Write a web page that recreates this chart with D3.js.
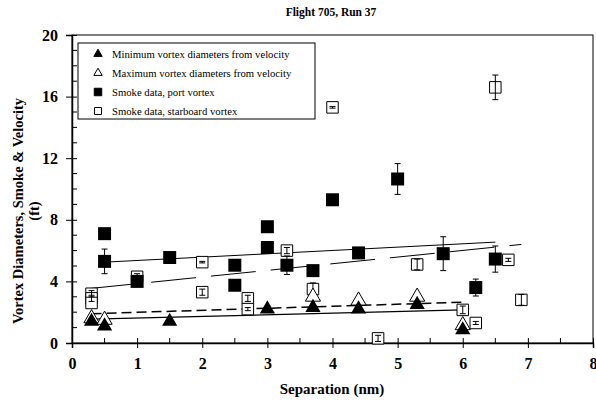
<!DOCTYPE html>
<html>
<head>
<meta charset="utf-8">
<script src="https://cdn.jsdelivr.net/npm/d3@7/dist/d3.min.js"></script>
<style>
  body { margin: 0; background: white; }
  svg { font-family: "Liberation Serif", "Times New Roman", serif; }
</style>
</head>
<body>
<svg id="chart" width="596" height="402"></svg>
<script>
// values: [separation, value, error half-height]
const minVel = [[0.3, 1.4], [0.5, 1.1], [1.5, 1.4], [3.0, 2.2], [3.7, 2.3], [4.4, 2.2], [5.3, 2.5], [6.0, 0.85]]
const maxVel = [[0.3, 1.6], [0.5, 1.5], [3.7, 3.0], [4.4, 2.75], [5.3, 3.0], [6.0, 1.15]]
const portSmoke = [
  [0.5, 5.3, 0.8], [0.5, 7.1, 0], [1.0, 4.0, 0], [1.5, 5.55, 0], [2.5, 5.05, 0], [2.5, 3.75, 0],
  [3.0, 7.55, 0], [3.0, 6.2, 0], [3.3, 5.05, 0.6], [3.7, 4.7, 0], [4.0, 9.3, 0], [4.4, 5.85, 0],
  [5.0, 10.65, 1.0], [5.7, 5.8, 1.1], [6.2, 3.6, 0.55], [6.5, 5.45, 0.85]
]
const starSmoke = [
  [0.3, 3.2, 0.2], [0.3, 2.9, 0.2], [0.3, 2.6, 0], [1.0, 4.3, 0.2], [2.0, 5.25, 0.05], [2.0, 3.3, 0.2],
  [2.7, 2.9, 0.2], [2.7, 2.2, 0.1], [3.3, 6.0, 0.2], [3.7, 3.5, 0.4], [4.0, 15.3, 0.05], [4.7, 0.3, 0.2],
  [5.3, 5.1, 0.35], [6.0, 2.15, 0.25], [6.2, 1.3, 0.1], [6.5, 16.6, 0.8], [6.7, 5.4, 0.1], [6.9, 2.8, 0.35]
]
// trend lines: [x1, y1, x2, y2]
const trendPort = [0.5, 5.25, 6.5, 6.55]
const trendStar = [0.3, 3.55, 6.9, 6.4]
const trendMax = [0.3, 1.9, 6.0, 2.65]
const trendMin = [0.3, 1.55, 6.0, 2.15]

const xMajor = [0, 1, 2, 3, 4, 5, 6, 7, 8]
const xMinor = [0.5, 1.5, 2.5, 3.5, 4.5, 5.5, 6.5, 7.5]
const yMajor = [0, 4, 8, 12, 16, 20]
const yMinor = [1, 2, 3, 5, 6, 7, 9, 10, 11, 13, 14, 15, 17, 18, 19]
const legendLabels = [
  "Minimum vortex diameters from velocity",
  "Maximum vortex diameters from velocity",
  "Smoke data, port vortex",
  "Smoke data, starboard vortex"
]

const svg = d3.select("#chart")
const x = d3.scaleLinear().domain([0, 8]).range([72, 593])
const y = d3.scaleLinear().domain([0, 20]).range([343, 35])

// frame
svg.append("rect")
  .attr("x", x(0)).attr("y", y(20))
  .attr("width", x(8) - x(0)).attr("height", y(0) - y(20))
  .attr("fill", "none").attr("stroke", "black").attr("stroke-width", 1)

// axes
const xAxis = svg.append("g")
  .attr("transform", `translate(0,${y(0)})`)
  .call(d3.axisBottom(x).tickValues(xMajor).tickFormat(d3.format("d")).tickSize(5).tickPadding(10))
xAxis.selectAll(".tick line").attr("y1", -5)
xAxis.select(".domain").attr("stroke-width", 1.5)
xAxis.selectAll("text").attr("font-size", 16).attr("font-weight", "bold").attr("font-family", "Liberation Serif")
svg.append("g").selectAll("line").data(xMinor).join("line")
  .attr("x1", d => x(d)).attr("x2", d => x(d))
  .attr("y1", y(0)).attr("y2", y(0) - 5).attr("stroke", "black")

const yAxis = svg.append("g")
  .attr("transform", `translate(${x(0)},0)`)
  .call(d3.axisLeft(y).tickValues(yMajor).tickFormat(d3.format("d")).tickSize(6).tickPadding(8))
yAxis.selectAll(".tick line").attr("x1", 5)
yAxis.select(".domain").attr("stroke-width", 1.5)
yAxis.selectAll("text").attr("font-size", 16).attr("font-weight", "bold").attr("font-family", "Liberation Serif")
svg.append("g").selectAll("line").data(yMinor).join("line")
  .attr("x1", x(0)).attr("x2", x(0) + 5)
  .attr("y1", d => y(d)).attr("y2", d => y(d)).attr("stroke", "black")

// titles
svg.append("text").attr("x", 331).attr("y", 16).attr("text-anchor", "middle")
  .attr("font-size", 11.5).attr("font-weight", "bold").text("Flight 705, Run 37")
svg.append("text").attr("x", 332).attr("y", 394).attr("text-anchor", "middle")
  .attr("font-size", 15).attr("font-weight", "bold").text("Separation (nm)")
const yTitle = svg.append("text").attr("transform", "translate(23,211) rotate(-90)")
  .attr("text-anchor", "middle").attr("font-size", 14.5).attr("font-weight", "bold")
yTitle.append("tspan").attr("x", 0).attr("y", 0).text("Vortex Diameters, Smoke & Velocity")
yTitle.append("tspan").attr("x", 0).attr("y", 16).text("(ft)")

// trend lines
const trends = [
  {t: trendPort, dash: null, w: 1},
  {t: trendStar, dash: "45,15", w: 1},
  {t: trendMax, dash: "10,5", w: 1.5},
  {t: trendMin, dash: null, w: 1.3}
]
svg.append("g").selectAll("line").data(trends).join("line")
  .attr("x1", d => x(d.t[0])).attr("y1", d => y(d.t[1]))
  .attr("x2", d => x(d.t[2])).attr("y2", d => y(d.t[3]))
  .attr("stroke", "black").attr("stroke-width", d => d.w)
  .attr("stroke-dasharray", d => d.dash)

const sq = d3.symbol().type(d3.symbolSquare)
const tri = d3.symbol().type(d3.symbolTriangle)

function errorBars(g, data) {
  const e = g.selectAll("g.err").data(data.filter(d => d[2] > 0)).join("g").attr("class", "err")
  e.append("line").attr("x1", d => x(d[0])).attr("x2", d => x(d[0]))
    .attr("y1", d => y(d[1] - d[2])).attr("y2", d => y(d[1] + d[2]))
  e.append("line").attr("x1", d => x(d[0]) - 3).attr("x2", d => x(d[0]) + 3)
    .attr("y1", d => y(d[1] - d[2])).attr("y2", d => y(d[1] - d[2]))
  e.append("line").attr("x1", d => x(d[0]) - 3).attr("x2", d => x(d[0]) + 3)
    .attr("y1", d => y(d[1] + d[2])).attr("y2", d => y(d[1] + d[2]))
  e.selectAll("line").attr("stroke", "black").attr("stroke-width", 1)
}

// starboard (open squares)
const gStar = svg.append("g")
gStar.selectAll("path").data(starSmoke).join("path")
  .attr("d", sq.size(132)())
  .attr("transform", d => `translate(${x(d[0])},${y(d[1])})`)
  .attr("fill", "white").attr("stroke", "black").attr("stroke-width", 1)
errorBars(gStar, starSmoke)

// port (filled squares)
const gPort = svg.append("g")
gPort.selectAll("path").data(portSmoke).join("path")
  .attr("d", sq.size(169)())
  .attr("transform", d => `translate(${x(d[0])},${y(d[1])})`)
  .attr("fill", "black")
errorBars(gPort, portSmoke)

// max (open triangles) then min (filled triangles)
svg.append("g").selectAll("path").data(maxVel).join("path")
  .attr("d", tri.size(100)())
  .attr("transform", d => `translate(${x(d[0])},${y(d[1])})`)
  .attr("fill", "white").attr("stroke", "black").attr("stroke-width", 1)
svg.append("g").selectAll("path").data(minVel).join("path")
  .attr("d", tri.size(100)())
  .attr("transform", d => `translate(${x(d[0])},${y(d[1])})`)
  .attr("fill", "black")

// legend
const legend = svg.append("g")
legend.append("rect").attr("x", 78).attr("y", 43).attr("width", 237).attr("height", 76)
  .attr("fill", "white").attr("stroke", "black").attr("stroke-width", 1)
const legendMarks = [
  {p: tri.size(30)(), fill: "black"},
  {p: tri.size(30)(), fill: "white"},
  {p: sq.size(56)(), fill: "black"},
  {p: sq.size(49)(), fill: "white"}
]
const rows = legend.selectAll("g.row").data(legendLabels).join("g").attr("class", "row")
  .attr("transform", (d, i) => `translate(0,${54 + i * 19})`)
rows.append("path").attr("d", (d, i) => legendMarks[i].p)
  .attr("transform", "translate(98,0)")
  .attr("fill", (d, i) => legendMarks[i].fill).attr("stroke", "black").attr("stroke-width", 1)
rows.append("text").attr("x", 112).attr("y", 3.5).attr("font-size", 10.7).text(d => d)
</script>
</body>
</html>
